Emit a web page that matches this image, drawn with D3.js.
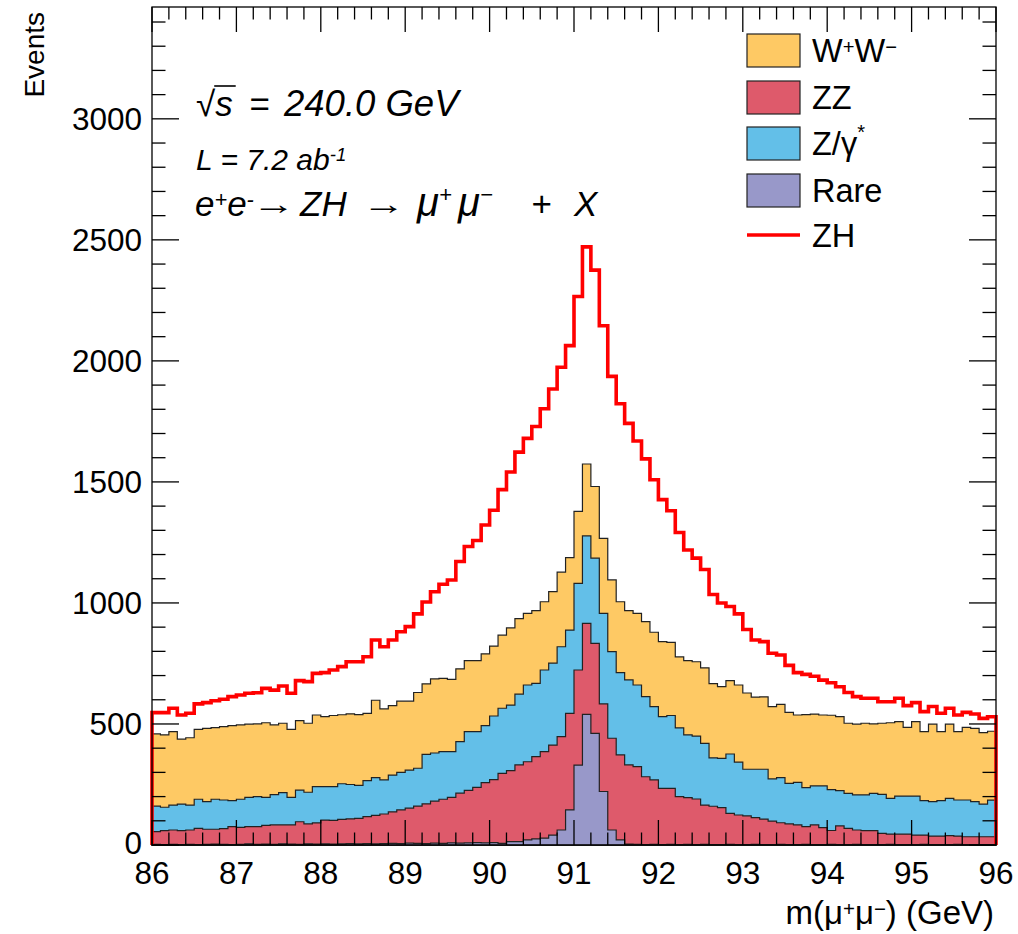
<!DOCTYPE html>
<html>
<head>
<meta charset="utf-8">
<script src="https://cdn.jsdelivr.net/npm/d3@7"></script>
<style>
  body { margin: 0; background: #fff; }
  text { font-family: "Liberation Sans", Arial, sans-serif; fill: #000; }
</style>
</head>
<body>
<script>
const width = 1018;
const height = 934;
const margin = {top: 7, right: 22, bottom: 89, left: 152};

// histogram binning: 100 bins of 0.1 GeV between 86 and 96
const xRange = [86, 96];
const nBins = 100;
const yMax = 3462;

const xTicks = [86, 87, 88, 89, 90, 91, 92, 93, 94, 95, 96];
const yTicks = [0, 500, 1000, 1500, 2000, 2500, 3000];

// events per bin (stack order: bottom -> top)
const rare = [3,2,3,2,3,2,3,4,3,2, 3,5,3,4,3,5,4,3,5,4, 5,4,5,6,5,6,5,6,7,6,
  8,7,6,8,7,9,8,9,10,9, 10,7,14,14,21,25,28,41,62,145, 330,540,461,221,62,21,4,3,2,3,
  2,3,2,3,2,3,2,2,3,2, 2,3,2,2,3,2,2,3,2,2, 3,2,2,3,2,2,2,3,2,2, 2,3,2,2,2,3,2,2,2,2];
const zz = [52,57,59,57,59,67,62,61,65,74, 70,71,73,77,80,78,79,93,82,87,
  98,98,101,102,105,111,117,122,130,139, 144,154,164,173,182,188,206,217,228,249,
  260,289,293,317,323,340,358,372,386,399, 393,376,372,362,379,351,327,321,280,266,
  232,231,198,193,188,162,158,152,128,122, 118,110,105,97,89,85,81,73,81,70,
  57,77,67,59,57,57,46,42,43,43, 39,38,35,35,37,34,32,32,32,32];
const zgamma = [106,97,103,110,103,120,114,124,118,107, 116,121,124,116,125,133,114,131,131,150,
  138,139,147,142,136,149,156,141,152,155, 157,156,204,199,197,189,213,242,230,235,
  263,269,271,292,317,303,337,338,371,344, 358,361,352,374,358,340,351,337,331,303,
  296,301,284,259,260,255,200,204,245,218, 193,200,206,174,186,168,176,161,161,172,
  169,146,144,145,148,154,161,148,157,157, 161,142,142,146,154,149,152,145,135,151];
const ww = [298,299,303,268,278,289,303,296,303,310, 307,302,300,308,288,287,281,287,285,296,
  289,294,285,292,293,278,320,293,287,294, 285,313,292,306,302,298,301,294,294,297,
  289,302,319,312,296,300,282,296,308,299, 297,297,296,310,296,293,286,296,310,307,
  310,302,293,307,307,312,307,296,303,319, 315,298,299,299,303,293,278,302,297,293,
  307,305,290,292,296,287,294,312,308,284, 308,285,320,285,306,282,300,303,295,285];
const zh = [88,92,97,100,101,105,106,111,113,120, 124,128,129,142,144,154,149,165,172,172,
  182,188,199,215,218,234,249,257,271,287, 308,325,338,360,389,411,443,471,496,532,
  561,601,644,688,723,761,797,837,847,876, 888,897,894,878,841,818,774,712,672,630,
  587,544,514,457,428,406,368,346,306,294, 262,236,228,220,204,194,175,166,156,144,
  134,124,127,114,103,106,89,87,96,90, 78,83,73,76,66,69,62,59,59,60];

const colors = {rare: "#9898c9", zz: "#de5a6b", zgamma: "#63bfe8", ww: "#fec964", zh: "#ff0000"};

const svg = d3.select("body").append("svg")
  .attr("width", width).attr("height", height);

const x = d3.scaleLinear().domain(xRange).range([margin.left, width - margin.right]);
const y = d3.scaleLinear().domain([0, yMax]).range([height - margin.bottom, margin.top]);

const edges = d3.range(nBins + 1).map(i => +(xRange[0] + i * (xRange[1] - xRange[0]) / nBins).toFixed(2));

const rows = d3.range(nBins).map(i => ({rare: rare[i], zz: zz[i], zgamma: zgamma[i], ww: ww[i]}));
const stack = d3.stack().keys(["rare", "zz", "zgamma", "ww"])(rows);

function stepPoints(tops) {
  const pts = [[xRange[0], 0]];
  tops.forEach((v, i) => { pts.push([edges[i], v], [edges[i + 1], v]); });
  pts.push([xRange[1], 0]);
  return pts;
}

const line = d3.line().x(d => x(d[0])).y(d => y(d[1]));

// stacked backgrounds, drawn from the top layer down
stack.slice().reverse().forEach(layer => {
  svg.append("path")
    .attr("d", line(stepPoints(layer.map(d => d[1]))) + "Z")
    .attr("fill", colors[layer.key])
    .attr("stroke", "#222")
    .attr("stroke-width", 1.2)
    .attr("stroke-linejoin", "miter");
});

// ZH on top of the stack
const total = stack[stack.length - 1].map((d, i) => d[1] + zh[i]);
svg.append("path")
  .attr("d", line(stepPoints(total)))
  .attr("fill", "none")
  .attr("stroke", colors.zh)
  .attr("stroke-width", 3.6)
  .attr("stroke-linejoin", "miter");

// frame and ticks
const x0 = x(xRange[0]), x1 = x(xRange[1]), y0 = y(0), y1 = y(yMax);
svg.append("rect")
  .attr("x", x0).attr("y", y1).attr("width", x1 - x0).attr("height", y0 - y1)
  .attr("fill", "none").attr("stroke", "#000").attr("stroke-width", 1.3);

const ticks = svg.append("g").attr("stroke", "#000").attr("stroke-width", 1.3);
const xMinor = d3.range(0, 51).map(i => +(86 + i * 0.2).toFixed(1));
xMinor.forEach(v => {
  const major = Math.abs(v - Math.round(v)) < 1e-6;
  const len = major ? 25 : 12.5;
  ticks.append("line").attr("x1", x(v)).attr("x2", x(v)).attr("y1", y0).attr("y2", y0 - len);
  ticks.append("line").attr("x1", x(v)).attr("x2", x(v)).attr("y1", y1).attr("y2", y1 + len);
});
const yMinor = d3.range(0, yMax, 100);
yMinor.forEach(v => {
  const len = v % 500 === 0 ? 27 : 13.5;
  ticks.append("line").attr("x1", x0).attr("x2", x0 + len).attr("y1", y(v)).attr("y2", y(v));
  ticks.append("line").attr("x1", x1).attr("x2", x1 - len).attr("y1", y(v)).attr("y2", y(v));
});

// tick labels
svg.append("g").selectAll("text").data(yTicks).join("text")
  .attr("x", x0 - 10).attr("y", d => y(d) + (d === 0 ? 9 : 11))
  .attr("text-anchor", "end").attr("font-size", 31.5)
  .text(d => d);
svg.append("g").selectAll("text").data(xTicks).join("text")
  .attr("x", d => x(d)).attr("y", 884)
  .attr("text-anchor", "middle").attr("font-size", 31.5)
  .text(d => d);

// axis titles
svg.append("text")
  .attr("transform", "translate(44,12) rotate(-90)")
  .attr("text-anchor", "end").attr("font-size", 28)
  .text("Events");

function supText(sel, parts) {
  parts.forEach(p => {
    const t = sel.append("tspan").text(p.t);
    if (p.x != null) t.attr("x", p.x);
    if (p.size) t.attr("font-size", p.size);
    if (p.sup) t.attr("font-size", p.size || "62%").attr("baseline-shift", p.sup);
  });
  return sel;
}

supText(svg.append("text").attr("x", 994).attr("y", 924).attr("text-anchor", "end").attr("font-size", 33),
  [{t: "m(μ"}, {t: "+", sup: "38%"}, {t: "μ"}, {t: "−", sup: "38%"}, {t: ") (GeV)"}]);

// annotations
const ann = svg.append("g").attr("font-style", "italic");
const sq = ann.append("text").attr("x", 196).attr("y", 116).attr("font-size", 35);
sq.append("tspan").attr("font-style", "normal").text("√");
sq.append("tspan").text("s");
sq.append("tspan").attr("x", 249).text("=");
sq.append("tspan").attr("x", 284).attr("font-size", 36.5).text("240.0 GeV");
{
  const node = sq.node();
  const sx = node.getStartPositionOfChar(1).x;
  const ex = node.getEndPositionOfChar(1).x;
  ann.append("line").attr("x1", sx - 1).attr("x2", ex + 3).attr("y1", 86).attr("y2", 86)
    .attr("stroke", "#000").attr("stroke-width", 1.6);
}
supText(ann.append("text").attr("x", 196).attr("y", 170).attr("font-size", 30),
  [{t: "L = 7.2 ab"}, {t: "-1", sup: "45%"}]);
supText(ann.append("text").attr("x", 195).attr("y", 216).attr("font-size", 35),
  [{t: "e"}, {t: "+", sup: "40%"}, {t: "e"}, {t: "-", sup: "40%"},
   {t: "ZH", x: 300},
   {t: "μ", x: 417, size: 40}, {t: "+", sup: "14px", size: 22},
   {t: "μ", x: 458, size: 40}, {t: "−", sup: "14px", size: 22},
   {t: "+", x: 531}, {t: "X", x: 574}]);
// wide arrows, as in the original typesetting
[252, 362].forEach(ax => {
  ann.append("text")
    .attr("transform", `translate(${ax},214) scale(1.45,1)`)
    .attr("font-family", "DejaVu Sans").attr("font-style", "normal").attr("font-size", 30)
    .text("→");
});

// legend
const legend = svg.append("g");
const legendRows = [
  {key: "ww", y: 50, parts: [{t: "W"}, {t: "+", sup: "38%"}, {t: "W"}, {t: "−", sup: "38%"}]},
  {key: "zz", y: 97, parts: [{t: "ZZ"}]},
  {key: "zgamma", y: 143, parts: [{t: "Z/γ"}, {t: "*", sup: "80%"}]},
  {key: "rare", y: 190, parts: [{t: "Rare"}]},
  {key: "zh", y: 235, parts: [{t: "ZH"}]}
];
legendRows.forEach(r => {
  if (r.key === "zh") {
    legend.append("line").attr("x1", 747).attr("x2", 800).attr("y1", r.y).attr("y2", r.y)
      .attr("stroke", colors.zh).attr("stroke-width", 3.6);
  } else {
    legend.append("rect").attr("x", 747).attr("y", r.y - 16).attr("width", 53).attr("height", 33)
      .attr("fill", colors[r.key]).attr("stroke", "#222").attr("stroke-width", 1.2);
  }
  supText(legend.append("text").attr("x", 812).attr("y", r.y + 12).attr("font-size", 32.5), r.parts);
});
</script>
</body>
</html>
